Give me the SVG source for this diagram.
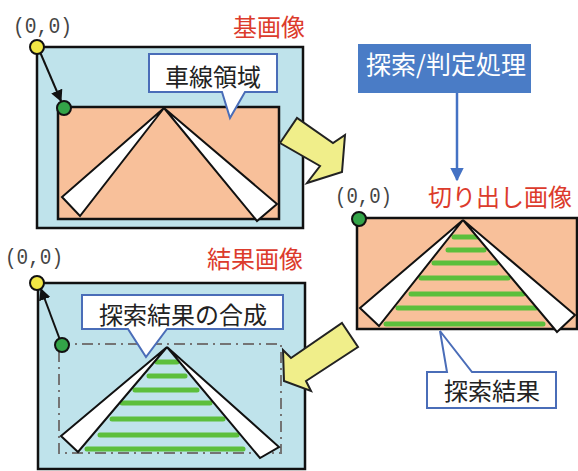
<svg xmlns="http://www.w3.org/2000/svg" width="578" height="471" viewBox="0 0 578 471">
<style>
.panel{fill:#bfe3eb;stroke:#111;stroke-width:2.5}
.crop{fill:#f8c09a;stroke:#111;stroke-width:2.5}
.wedge{fill:#fff;stroke:#111;stroke-width:2;stroke-linejoin:miter}
.gl{stroke:#5cbf3c;stroke-width:5;stroke-linecap:round}
.call{fill:#fff;stroke:#4a6db8;stroke-width:2}
.jp{font-family:"Noto Sans CJK JP","Noto Sans",sans-serif}
.red{fill:#dc3b2c;font-size:24px}
.blk{fill:#222;font-size:24px}
.coord{font-family:"Liberation Mono",monospace;font-size:22px;fill:#444}
.ydot{fill:#f1e745;stroke:#111;stroke-width:2}
.gdot{fill:#33a448;stroke:#111;stroke-width:2}
.barrow{fill:#f0ee8a;stroke:#222;stroke-width:2;stroke-linejoin:miter}
.conn{stroke:#111;stroke-width:2;fill:none}
</style>
<defs>
<marker id="ah" viewBox="0 0 10 10" refX="9" refY="5" markerWidth="6" markerHeight="6" orient="auto" markerUnits="strokeWidth">
<path d="M0,0 L10,5 L0,10 Z" fill="#111"/>
</marker>
<marker id="bh" viewBox="0 0 10 10" refX="9" refY="5" markerWidth="5.5" markerHeight="5.5" orient="auto" markerUnits="strokeWidth">
<path d="M0,0 L10,5 L0,10 Z" fill="#4472c4"/>
</marker>
</defs>

<g id="base-image">
<rect class="panel" x="37" y="47" width="266" height="181"/>
<rect class="crop" x="58" y="107" width="221" height="112"/>
<polygon class="wedge" points="164,108 62,197 80,216"/>
<polygon class="wedge" points="164,108 257,221 277,204"/>
<text class="jp red" x="233" y="36">基画像</text>
<text class="coord" x="13" y="33" textLength="59" lengthAdjust="spacingAndGlyphs">(0,0)</text>
</g>

<g id="lane-callout">
<path class="call" d="M149,54 H277 V92 H245 L230,118 L222,92 H149 Z"/>
<text class="jp blk" x="213" y="86" text-anchor="middle">車線領域</text>
</g>

<g id="process">
<rect x="358" y="44" width="173" height="49" fill="#4a7cc6"/>
<text class="jp" x="446" y="74" text-anchor="middle" font-size="25" fill="#fff">探索/判定処理</text>
</g>

<g id="cropped-image">
<rect class="crop" x="357" y="218" width="220" height="111"/>
<line class="gl" x1="454" y1="237" x2="477" y2="237"/>
<line class="gl" x1="448" y1="250" x2="484" y2="250"/>
<line class="gl" x1="434" y1="263" x2="496" y2="263"/>
<line class="gl" x1="421" y1="278" x2="508" y2="278"/>
<line class="gl" x1="411" y1="294" x2="523" y2="294"/>
<line class="gl" x1="398" y1="308" x2="536" y2="308"/>
<line class="gl" x1="386" y1="324" x2="543" y2="324"/>
<polygon class="wedge" points="463,220 360,308 379,326"/>
<polygon class="wedge" points="463,220 557,332 575,315"/>
<text class="jp red" x="428" y="206" font-size="24.5">切り出し画像</text>
<text class="coord" x="335" y="203" textLength="57" lengthAdjust="spacingAndGlyphs">(0,0)</text>
</g>

<g id="result-callout">
<path class="call" d="M427,372 H447 L440,331 L472,372 H556 V408 H427 Z"/>
<text class="jp blk" x="492" y="400" text-anchor="middle">探索結果</text>
</g>

<g id="result-image">
<rect class="panel" x="38" y="283" width="267" height="186"/>
<rect x="59" y="344" width="222" height="109" fill="none" stroke="#747474" stroke-width="2" stroke-dasharray="11 5 2 5"/>
<line class="gl" x1="157" y1="362" x2="177" y2="362"/>
<line class="gl" x1="149" y1="376" x2="185" y2="376"/>
<line class="gl" x1="135" y1="390" x2="197" y2="390"/>
<line class="gl" x1="122" y1="403" x2="210" y2="403"/>
<line class="gl" x1="112" y1="419" x2="223" y2="419"/>
<line class="gl" x1="100" y1="435" x2="237" y2="435"/>
<line class="gl" x1="87" y1="449" x2="243" y2="449"/>
<polygon class="wedge" points="167,347 61,436 78,452"/>
<polygon class="wedge" points="167,347 260,458 279,447"/>
<text class="jp red" x="207" y="268">結果画像</text>
<text class="coord" x="5" y="264" textLength="58" lengthAdjust="spacingAndGlyphs">(0,0)</text>
</g>

<g id="compose-callout">
<path class="call" d="M82,295 H283 V329 H167 L146,357 L128,329 H82 Z"/>
<text class="jp blk" x="183" y="324" text-anchor="middle">探索結果の合成</text>
</g>

<g id="connectors">
<line class="conn" x1="40" y1="52" x2="61" y2="101" marker-end="url(#ah)"/>
<line class="conn" x1="60" y1="340" x2="41" y2="289" marker-end="url(#ah)"/>
<line x1="457" y1="93" x2="457" y2="180" stroke="#4472c4" stroke-width="2.5" marker-end="url(#bh)"/>
<polygon class="barrow" points="280,143 297,118 333,143 345,135 342,172 307,183 320,166"/>
<polygon class="barrow" points="342,323 358,347 306,381 311,391 284,381 283,350 291,358"/>
</g>

<g id="dots">
<circle class="ydot" cx="37" cy="47" r="7"/>
<circle class="gdot" cx="64" cy="108" r="7"/>
<circle class="gdot" cx="359" cy="219" r="7"/>
<circle class="ydot" cx="37" cy="283" r="7"/>
<circle class="gdot" cx="62" cy="345" r="7"/>
</g>
</svg>
